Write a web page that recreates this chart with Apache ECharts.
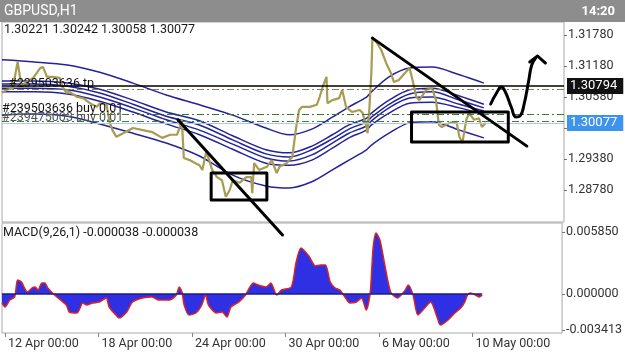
<!DOCTYPE html>
<html>
<head>
<meta charset="utf-8">
<title>GBPUSD H1</title>
<script src="https://cdn.jsdelivr.net/npm/echarts@6/dist/echarts.min.js"></script>
<style>
  html, body { margin: 0; padding: 0; background: #fff; }
  #chart { width: 625px; height: 352px; }
</style>
</head>
<body>
<div id="chart"></div>
<script>
// x = trading hour index counted from 12 Apr 00:00 (weekends skipped)
const timeTicks = [0, 96, 192, 288, 384, 480];
const timeLabels = ['12 Apr 00:00', '18 Apr 00:00', '24 Apr 00:00', '30 Apr 00:00', '6 May 00:00', '10 May 00:00'];
const priceTicks = [1.2878, 1.2938, 1.2998, 1.3058, 1.3118, 1.3178];
const macdTicks = [-0.003413, 0, 0.00585];

const symbolName = 'GBPUSD,H1';
const clockText = '14:20';
const lastOhlc = [1.30221, 1.30242, 1.30058, 1.30077];
const macdParams = [9, 26, 1];
const macdLast = [-0.000038, -0.000038];

// price path (closes)
const priceBars = [-3, 2, 8, 13, 17, 22, 29, 36, 39, 43, 49, 56, 59, 63, 66, 74, 80, 87, 94, 97,
  104, 107, 110, 114, 121, 131, 141, 151, 161, 169, 176, 179, 181, 183, 189, 195, 199, 202, 206, 209,
  212, 217, 222, 226, 230, 233, 240, 247, 252, 253, 255, 260, 268, 273, 278, 281, 288, 294, 298, 301,
  304, 312, 319, 322, 325, 329, 330, 335, 342, 345, 349, 355, 363, 366, 370, 371, 373, 375, 376, 380,
  385, 390, 395, 398, 403, 409, 414, 417, 421, 424, 431, 437, 441, 444, 447, 455, 462, 465, 468, 472,
  475, 480, 485, 488, 492];
const priceClose = [1.3066, 1.3072, 1.3075, 1.3126, 1.3077, 1.3087, 1.3095, 1.3114, 1.3116, 1.3097,
  1.3097, 1.3095, 1.3077, 1.3066, 1.3068, 1.3058, 1.3056, 1.3046, 1.3039, 1.3046,
  1.3043, 1.3010, 1.2994, 1.2981, 1.2988, 1.2998, 1.2994, 1.2990, 1.2979, 1.2985,
  1.2985, 1.3000, 1.3014, 1.2940, 1.2936, 1.2930, 1.2926, 1.2917, 1.2952, 1.2936,
  1.2917, 1.2903, 1.2897, 1.2865, 1.2878, 1.2897, 1.2892, 1.2903, 1.2903, 1.2872,
  1.2930, 1.2917, 1.2923, 1.2936, 1.2911, 1.2923, 1.2930, 1.2942, 1.3000, 1.3033,
  1.3039, 1.3039, 1.3043, 1.3058, 1.3077, 1.3097, 1.3046, 1.3052, 1.3056, 1.3072,
  1.3039, 1.3029, 1.3033, 1.3027, 1.3000, 1.2988, 1.3039, 1.3110, 1.3174, 1.3164,
  1.3149, 1.3124, 1.3104, 1.3087, 1.3091, 1.3104, 1.3114, 1.3091, 1.3058, 1.3052,
  1.3072, 1.3075, 1.3052, 1.3004, 1.3000, 1.3008, 1.3010, 1.2981, 1.2969, 1.3014,
  1.3027, 1.3014, 1.3017, 1.3000, 1.3008];

// envelope bands
const bandBars = [-3, 30, 64, 97, 131, 165, 199, 233, 267, 291, 314, 335, 352, 370, 375, 393, 414, 437, 465, 490];
const bandTop = [1.3130, 1.3126, 1.3120, 1.3106, 1.3085, 1.3062, 1.3043, 1.3023, 1.2998, 1.2985,
  1.2996, 1.3019, 1.3039, 1.3058, 1.3068, 1.3097, 1.3114, 1.3116, 1.3101, 1.3085];
const bandIn1 = [1.3089, 1.3089, 1.3085, 1.3073, 1.3052, 1.3029, 1.3012, 1.2983, 1.2956, 1.2950,
  1.2963, 1.2985, 1.3004, 1.3017, 1.3027, 1.3052, 1.3072, 1.3075, 1.3060, 1.3044];
const bandIn2 = [1.3083, 1.3083, 1.3079, 1.3066, 1.3044, 1.3021, 1.3004, 1.2975, 1.2948, 1.2942,
  1.2956, 1.2977, 1.2996, 1.3010, 1.3019, 1.3044, 1.3064, 1.3068, 1.3052, 1.3037];
const bandIn3 = [1.3075, 1.3075, 1.3072, 1.3058, 1.3037, 1.3014, 1.2994, 1.2967, 1.2940, 1.2934,
  1.2946, 1.2969, 1.2988, 1.3002, 1.3012, 1.3037, 1.3056, 1.3058, 1.3044, 1.3031];
const bandIn4 = [1.3068, 1.3068, 1.3064, 1.3050, 1.3029, 1.3006, 1.2985, 1.2957, 1.2930, 1.2926,
  1.2936, 1.2959, 1.2979, 1.2994, 1.3004, 1.3027, 1.3046, 1.3048, 1.3037, 1.3025];
const bandBottom = [1.3023, 1.3025, 1.3021, 1.3006, 1.2988, 1.2969, 1.2944, 1.2907, 1.2886, 1.2882,
  1.2894, 1.2917, 1.2936, 1.2956, 1.2965, 1.2988, 1.3008, 1.3010, 1.2994, 1.2979];

// MACD(9,26,1)
const macdBars = [-3, 0, 5, 10, 13, 17, 20, 23, 28, 31, 34, 38, 41, 44, 51, 63, 66, 74, 80, 84,
  90, 97, 104, 107, 114, 117, 125, 131, 141, 151, 158, 169, 176, 179, 182, 184, 189, 196, 202, 206,
  209, 217, 223, 228, 232, 240, 247, 255, 260, 268, 273, 279, 284, 294, 299, 304, 312, 319, 324, 329,
  334, 339, 344, 349, 354, 361, 366, 371, 375, 378, 381, 385, 390, 396, 403, 411, 414, 419, 424, 431,
  437, 444, 447, 455, 462, 468, 472, 475, 478, 483, 487, 490];
const macdValues = [-0.00085, -0.00123, -0.00057, -0.00028, 0.00132, 0.00113, 0.00057, 0.00019, 0.00057, 0.00066,
  0.00038, 0.00104, 0.00104, 0.00057, -0.00009, -0.00104, -0.0017, -0.00179, -0.00085, -0.00104,
  -0.00085, -0.00076, -0.00038, -0.00123, -0.00198, -0.00227, -0.0017, -0.00076, -0.00038, -0.00028,
  -0.00057, -0.00057, -0.00009, 0.00066, 0.00009, -0.00104, -0.00198, -0.00179, -0.00104, -0.00009,
  -0.00104, -0.00179, -0.0017, -0.00217, -0.00123, -0.00076, -0.00009, 0.00104, 0.00085, 0.00066,
  0.00104, -0.00009, 0.00038, 0.00066, 0.00302, 0.00434, 0.00359, 0.00264, 0.00274, 0.00274,
  0.00113, 0.00057, 0.00038, -0.00028, -0.00085, -0.00076, -0.00038, -0.00151, 0.00009, 0.00434,
  0.00576, 0.0051, 0.00274, 0.00019, -0.00038, 0.00038, 0.00085, -0.00009, -0.00198, -0.00132,
  -0.00076, -0.00227, -0.00293, -0.00245, -0.00179, -0.00132, -0.00076, -0.00009, 0.00009, -0.00009,
  -0.00028, -0.00009];

// horizontal levels
const levelLine = 1.30794;
const levelTp = 1.30735;
const levelBuy1 = 1.30245;
const levelBuy2 = 1.30121;
const levelBid = 1.30077;
const orderTp = '#239503636 tp';
const orderBuy1 = '#239503636 buy 0.01';
const orderBuy2 = '#239475003 buy 0.01';

// hand drawings (bar, price)
const trendA = [[177, 1.3014], [284, 1.2791]];
const trendB = [[376, 1.3172], [534, 1.2963]];
const boxA = [211, 268, 1.2859, 1.2911];   // x0, x1, low, high
const boxB = [416, 515, 1.2971, 1.3029];
const sketchBars = [497, 503, 508, 512, 518, 523, 527, 531, 536, 539, 543];
const sketchPrices = [1.30445, 1.30658, 1.30774, 1.30677, 1.30387, 1.30193, 1.30213, 1.30426, 1.30909, 1.31200, 1.31335];
const arrowBars = [537, 545, 553];
const arrowPrices = [1.31258, 1.31374, 1.31238];

const FONT = 'Roboto, "Noto Sans", sans-serif';

const ChartView = {
  chart: null,

  pairs(xs, ys) {
    return xs.map((x, i) => [x, ys[i]]);
  },

  box(b) {
    return [[b[0], b[3]], [b[1], b[3]], [b[1], b[2]], [b[0], b[2]], [b[0], b[3]]];
  },

  drawing(data, smooth) {
    return {
      type: 'line', xAxisIndex: 0, yAxisIndex: 0, data,
      symbol: 'none', smooth: smooth || false, clip: false, silent: true, z: 10,
      lineStyle: { color: '#000', width: 3, cap: 'round', join: 'round' }
    };
  },

  orderLabel(text, dx, dy, color) {
    return {
      show: true, position: 'insideStartTop', formatter: text, distance: [dx, dy],
      color: color || '#111', fontSize: 12.5, fontFamily: FONT
    };
  },

  priceTag(value, bg) {
    return {
      show: true, position: 'end', distance: 3,
      formatter: () => value.toFixed(5),
      backgroundColor: bg, color: '#fff', fontSize: 13, fontFamily: FONT,
      padding: [2, 6, 1, 3]
    };
  },

  render() {
    this.chart = echarts.init(document.getElementById('chart'));

    const bands = [bandTop, bandIn1, bandIn2, bandIn3, bandIn4, bandBottom].map(vals => ({
      type: 'line', xAxisIndex: 0, yAxisIndex: 0,
      data: this.pairs(bandBars, vals),
      symbol: 'none', smooth: 0.3, silent: true, z: 2,
      lineStyle: { color: '#23239c', width: 1.5 }
    }));

    const price = {
      type: 'line', xAxisIndex: 0, yAxisIndex: 0,
      data: this.pairs(priceBars, priceClose),
      symbol: 'none', silent: true, z: 3,
      lineStyle: { color: '#a89b52', width: 2.2 },
      markLine: {
        symbol: ['none', 'none'], silent: true, animation: false, precision: 6,
        data: [
          { yAxis: levelBuy2, lineStyle: { color: '#4a7a40', width: 1, type: [7, 3, 2, 3] }, label: this.orderLabel(orderBuy2, 0, -4, '#555') },
          { yAxis: levelBuy1, lineStyle: { color: '#3a7a35', width: 1, type: [7, 3, 2, 3] }, label: this.orderLabel(orderBuy1, 0, -1) },
          { yAxis: levelTp, lineStyle: { color: '#8a7d55', width: 1, type: [7, 3, 2, 3] }, label: this.orderLabel(orderTp, 7, -1) },
          { yAxis: levelBid, lineStyle: { color: '#a9c9e6', width: 1, type: 'solid' }, label: this.priceTag(levelBid, '#3c94ee') },
          { yAxis: levelLine, lineStyle: { color: '#000', width: 1.5, type: 'solid' }, label: this.priceTag(levelLine, '#111') }
        ]
      }
    };

    const macd = {
      type: 'line', xAxisIndex: 1, yAxisIndex: 1,
      data: this.pairs(macdBars, macdValues),
      symbol: 'none', smooth: 0.25, silent: true, z: 3,
      lineStyle: { color: '#dd2222', width: 1.5 },
      areaStyle: { color: '#2f2fe4', opacity: 1 }
    };

    const macdZero = {
      type: 'line', xAxisIndex: 1, yAxisIndex: 1,
      data: [[macdBars[0], 0], [macdBars[macdBars.length - 1], 0]],
      symbol: 'none', silent: true, z: 4,
      lineStyle: { color: '#1c1c8a', width: 1.5 }
    };

    const drawings = [
      this.drawing(trendA),
      this.drawing(trendB),
      this.drawing(this.box(boxA)),
      this.drawing(this.box(boxB)),
      this.drawing(this.pairs(sketchBars, sketchPrices), 0.5),
      this.drawing(this.pairs(arrowBars, arrowPrices))
    ];

    const ohlcText = lastOhlc.map(v => v.toFixed(5)).join(' ');
    const macdText = 'MACD(' + macdParams.join(',') + ') ' + macdLast.map(v => v.toFixed(6)).join(' ');

    this.chart.setOption({
      animation: false,
      backgroundColor: '#fff',
      textStyle: { fontFamily: FONT },
      grid: [
        { left: 2, right: 61, top: 22, height: 200, show: true, borderColor: '#a8a8a8', borderWidth: 1 },
        { left: 2, right: 61, top: 223, height: 110, show: true, borderColor: '#a8a8a8', borderWidth: 1 }
      ],
      xAxis: [
        { gridIndex: 0, type: 'value', min: -3, max: 572, show: false, axisLine: { onZero: false } },
        {
          gridIndex: 1, type: 'value', min: -3, max: 572,
          axisLine: { show: false, onZero: false }, splitLine: { show: false },
          axisTick: { customValues: timeTicks, length: 4, lineStyle: { color: '#888' } },
          axisLabel: {
            customValues: timeTicks, align: 'left', margin: 4, padding: [0, 0, 0, 3],
            color: '#333', fontSize: 12.5, fontFamily: FONT,
            formatter: v => timeLabels[timeTicks.indexOf(v)] || ''
          }
        }
      ],
      yAxis: [
        {
          gridIndex: 0, type: 'value', position: 'right', min: 1.28162, max: 1.32032,
          axisLine: { show: false, onZero: false }, splitLine: { show: false },
          axisTick: { show: true, customValues: priceTicks, length: 3, lineStyle: { color: '#777' } },
          axisLabel: {
            customValues: priceTicks, margin: 4, color: '#333', fontSize: 12.5, fontFamily: FONT,
            formatter: v => v.toFixed(5)
          }
        },
        {
          gridIndex: 1, type: 'value', position: 'right', min: -0.00368, max: 0.0067,
          axisLine: { show: false, onZero: false }, splitLine: { show: false },
          axisTick: { show: true, customValues: macdTicks, length: 3, lineStyle: { color: '#777' } },
          axisLabel: {
            customValues: macdTicks, margin: 4, color: '#333', fontSize: 12.5, fontFamily: FONT,
            formatter: v => v.toFixed(6)
          }
        }
      ],
      graphic: [
        { type: 'rect', left: 0, top: 0, shape: { width: 625, height: 22 }, style: { fill: '#8d8d8d' }, z: 100 },
        { type: 'text', left: 4, top: 4, style: { text: symbolName, fill: '#fff', font: '14px ' + FONT }, z: 101 },
        { type: 'text', right: 10, top: 5, style: { text: clockText, fill: '#fff', font: 'bold 13px ' + FONT }, z: 101 },
        { type: 'text', left: 4, top: 23, style: { text: ohlcText, fill: '#1a1a1a', font: '12.5px ' + FONT }, z: 101 },
        { type: 'text', left: 3, top: 226, style: { text: macdText, fill: '#1a1a1a', font: '12.5px ' + FONT }, z: 101 }
      ],
      series: [...bands, price, macd, macdZero, ...drawings]
    });
  }
};

ChartView.render();
</script>
</body>
</html>
